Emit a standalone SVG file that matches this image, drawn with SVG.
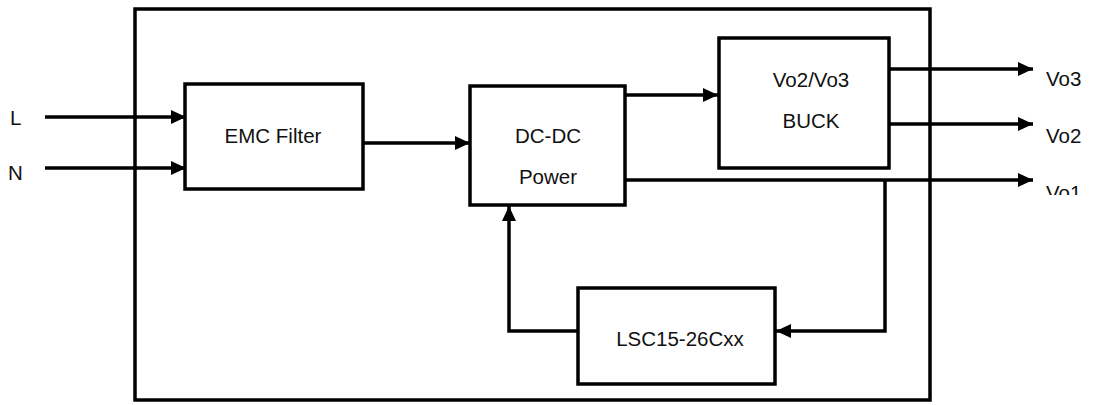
<svg xmlns="http://www.w3.org/2000/svg" width="1094" height="405" viewBox="0 0 1094 405">
<style>
.box{fill:#fff;stroke:#000;stroke-width:3.5}
.frame{fill:none;stroke:#000;stroke-width:3.5}
.ln{fill:none;stroke:#000;stroke-width:3.5;stroke-linejoin:miter}
.ar{marker-end:url(#ah)}
text{font-family:"Liberation Sans",Arial,sans-serif;font-size:20.5px;fill:#111}
.c{text-anchor:middle}
</style>
<defs>
<marker id="ah" markerUnits="userSpaceOnUse" markerWidth="15" markerHeight="14" refX="15" refY="7" orient="auto">
<path d="M0,0 L15,7 L0,14 z" fill="#000"/>
</marker>
<clipPath id="clipVo1"><rect x="1000" y="170" width="94" height="25"/></clipPath>
</defs>
<rect class="frame" x="135" y="9" width="795" height="391"/>
<g id="connectors">
<path class="ln ar" d="M45,117 H186"/>
<path class="ln ar" d="M45,168 H186"/>
<path class="ln ar" d="M363,143 H470"/>
<path class="ln ar" d="M625,95 H718"/>
<path class="ln ar" d="M889,69 H1033"/>
<path class="ln ar" d="M889,124 H1033"/>
<path class="ln ar" d="M625,180 H1033"/>
<path class="ln ar" d="M885,180 V331 H776"/>
<path class="ln ar" d="M578,331 H509 V206"/>
</g>
<g id="emc">
<rect class="box" x="185" y="84" width="178" height="105"/>
<text class="c" x="273" y="143">EMC Filter</text>
</g>
<g id="dcdc">
<rect class="box" x="470" y="86" width="155" height="119"/>
<text class="c" x="548" y="143">DC-DC</text>
<text class="c" x="548" y="184">Power</text>
</g>
<g id="buck">
<rect class="box" x="719" y="38" width="170" height="130"/>
<text class="c" x="811" y="87">Vo2/Vo3</text>
<text class="c" x="811" y="128">BUCK</text>
</g>
<g id="lsc">
<rect class="box" x="578" y="288" width="197" height="96"/>
<text class="c" x="680" y="346">LSC15-26Cxx</text>
</g>
<g id="labels">
<text x="10" y="125">L</text>
<text x="8" y="180">N</text>
<text x="1046" y="86">Vo3</text>
<text x="1046" y="143">Vo2</text>
<text x="1046" y="200" clip-path="url(#clipVo1)">Vo1</text>
</g>
</svg>
